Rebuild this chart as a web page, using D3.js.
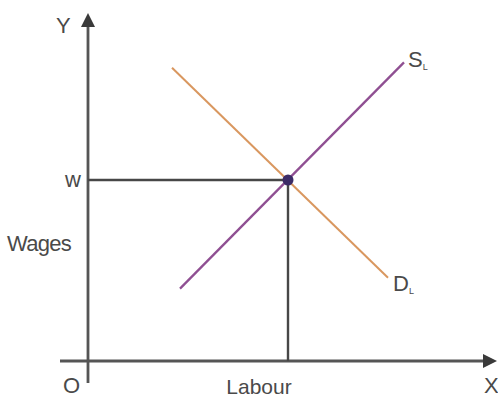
<!DOCTYPE html>
<html>
<head>
<meta charset="utf-8">
<script src="https://cdn.jsdelivr.net/npm/d3@7"></script>
<style>
  html, body { margin: 0; padding: 0; background: #fff; }
  svg { display: block; }
  text { font-family: "Liberation Sans", Arial, sans-serif; fill: #4a4a4a; }
</style>
</head>
<body>
<svg id="chart" width="498" height="399"></svg>
<script>
// Labour market: supply and demand of labour meeting at the equilibrium wage w
const supplyCurve = [{ x: 2.3, y: 2.0 }, { x: 7.9, y: 8.25 }];
const demandCurve = [{ x: 2.1, y: 8.1 }, { x: 7.5, y: 2.3 }];
const equilibrium = { x: 5, y: 5 };
const yTickLabels = [{ value: 5, label: "w" }];
const axisNames = { x: "X", y: "Y", origin: "O", xTitle: "Labour", yTitle: "Wages" };
const curveNames = { supply: ["S", "L"], demand: ["D", "L"] };

const svg = d3.select("#chart");
const x = d3.scaleLinear().domain([0, 10]).range([88, 488]);
const y = d3.scaleLinear().domain([0, 10]).range([361, -1]);

const axisColor = "#555";

// axes with arrowheads
svg.append("line")
  .attr("x1", x(-0.7)).attr("x2", x(9.95))
  .attr("y1", y(0)).attr("y2", y(0))
  .attr("stroke", axisColor).attr("stroke-width", 2.8);
svg.append("line")
  .attr("x1", x(0)).attr("x2", x(0))
  .attr("y1", y(-0.61)).attr("y2", y(9.4))
  .attr("stroke", axisColor).attr("stroke-width", 2.8);

const ax = x(0), ay = y(0);
svg.append("path")
  .attr("d", `M${ax},13 L${ax - 7},27 L${ax + 7},27 Z`)
  .attr("fill", "#3a3a3a");
svg.append("path")
  .attr("d", `M497,${ay} L483,${ay - 7} L483,${ay + 7} Z`)
  .attr("fill", "#3a3a3a");

// guide lines from the equilibrium to both axes
svg.append("line")
  .attr("x1", x(0)).attr("x2", x(equilibrium.x))
  .attr("y1", y(equilibrium.y)).attr("y2", y(equilibrium.y))
  .attr("stroke", "#474747").attr("stroke-width", 2.4);
svg.append("line")
  .attr("x1", x(equilibrium.x)).attr("x2", x(equilibrium.x))
  .attr("y1", y(equilibrium.y)).attr("y2", y(0))
  .attr("stroke", "#474747").attr("stroke-width", 2.4);

const line = d3.line().x(d => x(d.x)).y(d => y(d.y));

svg.append("path").datum(demandCurve)
  .attr("d", line).attr("fill", "none")
  .attr("stroke", "#d9975f").attr("stroke-width", 2);
svg.append("path").datum(supplyCurve)
  .attr("d", line).attr("fill", "none")
  .attr("stroke", "#8f4f92").attr("stroke-width", 2.3);

svg.append("circle")
  .attr("cx", x(equilibrium.x)).attr("cy", y(equilibrium.y))
  .attr("r", 5.5).attr("fill", "#3b2b66");

// labels
const fs = 22;
svg.append("text").attr("x", 56).attr("y", 33).attr("font-size", fs).text(axisNames.y);
svg.append("text").attr("x", 484).attr("y", 393).attr("font-size", fs).text(axisNames.x);
svg.append("text").attr("x", 63).attr("y", 393).attr("font-size", fs).text(axisNames.origin);
svg.append("text").attr("x", 259).attr("y", 394).attr("font-size", 21)
  .attr("text-anchor", "middle").text(axisNames.xTitle);
svg.append("text").attr("x", 7).attr("y", 251).attr("font-size", fs)
  .attr("letter-spacing", -0.7).text(axisNames.yTitle);

svg.selectAll("text.ytick").data(yTickLabels).join("text")
  .attr("class", "ytick")
  .attr("x", 81).attr("y", d => y(d.value) + 7)
  .attr("text-anchor", "end").attr("font-size", fs)
  .text(d => d.label);

function curveLabel(pt, parts, dx, dy) {
  const t = svg.append("text")
    .attr("x", x(pt.x) + dx).attr("y", y(pt.y) + dy)
    .attr("font-size", fs);
  t.append("tspan").text(parts[0]);
  t.append("tspan").attr("font-size", 9).attr("dy", 3).text(parts[1]);
}
curveLabel(supplyCurve[1], curveNames.supply, 4, 5);
curveLabel(demandCurve[1], curveNames.demand, 5, 13);
</script>
</body>
</html>
